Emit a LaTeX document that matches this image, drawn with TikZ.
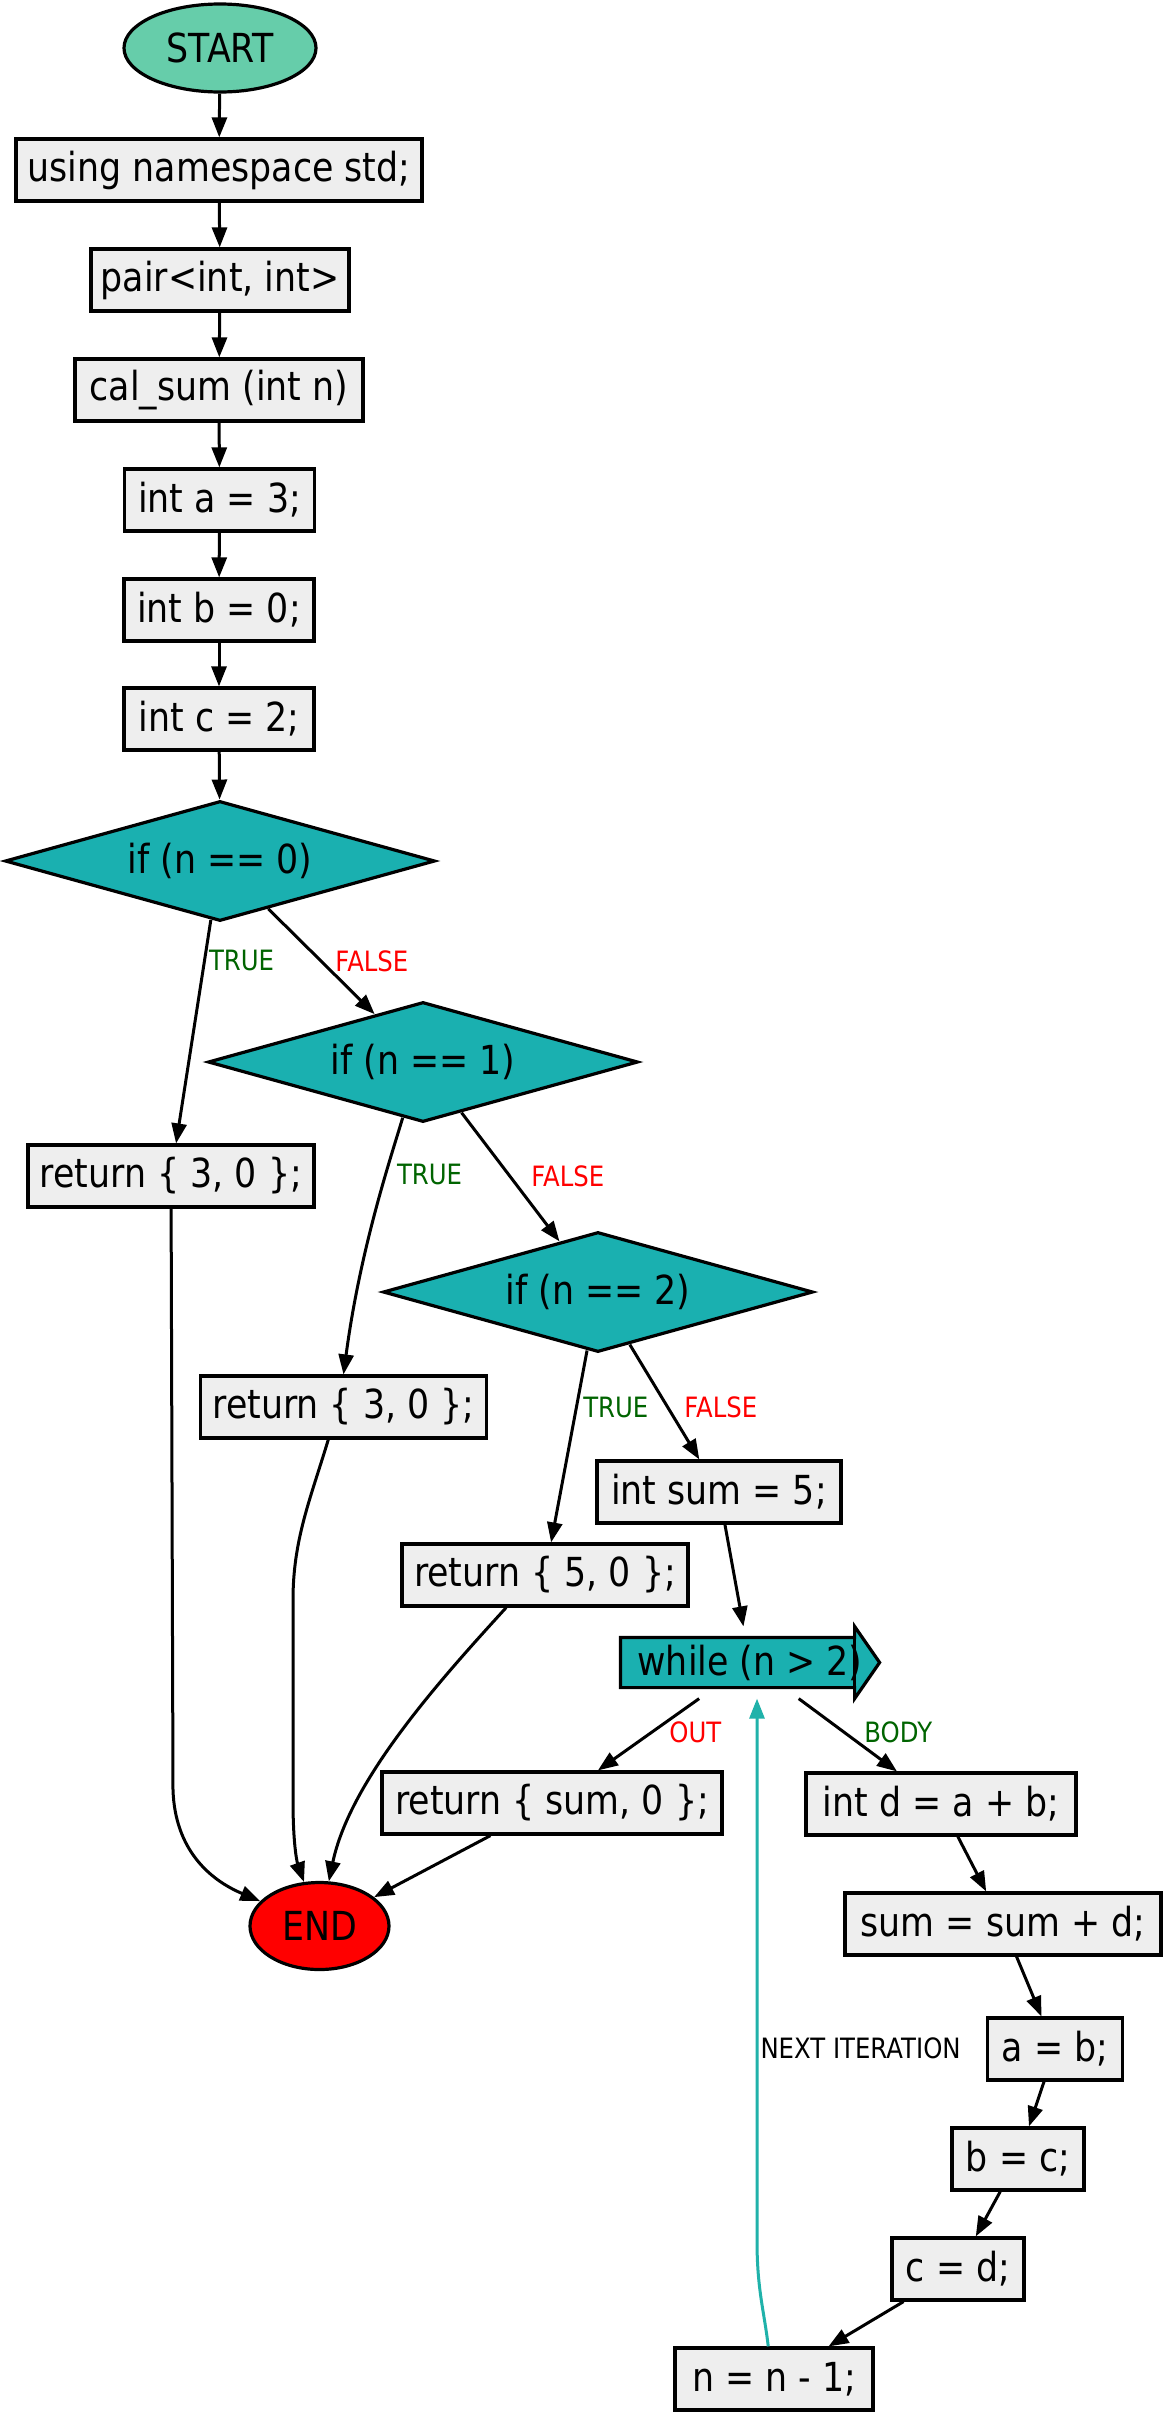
\documentclass[tikz,border=0pt]{standalone}
\usepackage{fontspec}
\setmainfont{DejaVu Sans}[FakeStretch=0.87]
\usetikzlibrary{shapes.geometric,arrows.meta,calc}
\pgfdeclarelayer{bg}
\pgfsetlayers{bg,main}
\definecolor{boxfill}{HTML}{EEEEEE}
\definecolor{startfill}{HTML}{66CDAA}
\definecolor{decfill}{HTML}{1AB0B0}
\definecolor{loopcol}{HTML}{20B2AA}
\definecolor{truecol}{HTML}{006400}
\definecolor{falsecol}{HTML}{FF0000}
\begin{document}
\begin{tikzpicture}[x=0.5pt,y=-0.5pt,
  base/.style={draw=black, line width=1.6pt, text=black,
    font=\fontsize{20}{24}\selectfont, inner sep=0pt},
  stmt/.style={base, rectangle, fill=boxfill, minimum height=31pt, inner xsep=4pt},
  term/.style={base, ellipse, minimum height=44pt},
  decision/.style={base, diamond, aspect=3.58, fill=decfill,
    minimum width=215pt, minimum height=60pt},
  flow/.style={line width=1.5pt, -{Triangle[length=10pt,width=7.5pt]}},
  lbl/.style={font=\fontsize{14}{17}\selectfont, inner sep=0pt, anchor=west},
  tlbl/.style={lbl, text=truecol},
  flbl/.style={lbl, text=falsecol},
]
\useasboundingbox (0,0) rectangle (1167,2415);
\begin{pgfonlayer}{bg}
  \fill[white] (0,0) rectangle (1167,2415);
\end{pgfonlayer}

% main column
\node[term, fill=startfill, minimum width=96pt] (start) at (220,48) {START};
\node[stmt, minimum width=203pt] (ns) at (219,170) {using namespace std;};
\node[stmt, minimum width=129pt] (pair) at (220,280) {pair<int, int>};
\node[stmt, minimum width=144pt] (cal) at (219,390) {cal\_sum (int n)};
\node[stmt, minimum width=95pt] (ia) at (219.5,500) {int a = 3;};
\node[stmt, minimum width=95pt] (ib) at (219,610) {int b = 0;};
\node[stmt, minimum width=95pt] (ic) at (219,719) {int c = 2;};

% decisions
\node[decision] (if0) at (220,861) {if (n == 0)};
\node[decision] (if1) at (423,1062) {if (n == 1)};
\node[decision] (if2) at (598,1292) {if (n == 2)};

\node[stmt, minimum width=143pt] (r1) at (171,1176) {return \{ 3, 0 \};};
\node[stmt, minimum width=143pt] (r2) at (343.5,1407) {return \{ 3, 0 \};};
\node[stmt, minimum width=122pt] (isum) at (719,1492) {int sum = 5;};
\node[stmt, minimum width=143pt] (r5) at (545,1575) {return \{ 5, 0 \};};

% loop header: arrow-shaped box
\node[base, draw=none, rectangle, minimum width=128pt, minimum height=34.5pt] (wh) at (750,1662.5) {while (n > 2)};
\begin{pgfonlayer}{bg}
  \draw[line width=1.6pt, fill=decfill, line join=miter]
    ($(wh.north west)+(0,11)$) -- ($(wh.north east)+(-25,11)$)
    -- ($(wh.north east)+(-25,0)$) -- (wh.east)
    -- ($(wh.south east)+(-25,0)$) -- ($(wh.south east)+(-25,-11)$)
    -- ($(wh.south west)+(0,-11)$) -- cycle;
  \draw[line width=1.6pt] ($(wh.north east)+(-25,0)$) -- ($(wh.south east)+(-25,0)$);
\end{pgfonlayer}

\node[stmt, minimum width=170pt] (rs) at (552,1803) {return \{ sum, 0 \};};
\node[stmt, minimum width=135pt] (id) at (941,1804) {int d = a + b;};
\node[stmt, minimum width=158pt] (ss) at (1003,1924) {sum = sum + d;};
\node[stmt, minimum width=67.5pt] (ab) at (1055,2049) {a = b;};
\node[stmt, minimum width=66pt] (bc) at (1018,2159) {b = c;};
\node[stmt, minimum width=66pt] (cd) at (958,2269) {c = d;};
\node[stmt, minimum width=99pt] (nn) at (774,2379) {n = n - 1;};

\node[term, fill=red, minimum width=69.5pt, minimum height=43.5pt] (end) at (319.5,1926) {END};

% bend points
\coordinate (b1) at (173,1790);
\coordinate (b2a) at (293,1600);
\coordinate (b2b) at (293,1800);
\coordinate (lp) at (757,2240);

% straight sequence
\draw[flow] (start) -- (ns);
\draw[flow] (ns) -- (pair);
\draw[flow] (pair) -- (cal);
\draw[flow] (cal) -- (ia);
\draw[flow] (ia) -- (ib);
\draw[flow] (ib) -- (ic);
\draw[flow] (ic) -- (if0);

% branches
\draw[flow] (if0) -- node[tlbl, pos=0.18, xshift=1.5pt] (t0) {TRUE} (r1);
\draw[flow] (if0) -- node[flbl, pos=0.495, xshift=6.5pt] (f0) {FALSE} (if1);
\draw[flow] (if1.-110) .. controls (390,1160) and (360,1250) .. node[tlbl, pos=0.33, xshift=5pt] (t1) {TRUE} (r2.north);
\draw[flow] (if1) -- node[flbl, pos=0.494, xshift=10pt] (f1) {FALSE} (if2);
\draw[flow] (if2) -- node[tlbl, pos=0.297, xshift=2.7pt] (t2) {TRUE} (r5);
\draw[flow] (if2) -- node[flbl, pos=0.542, xshift=7.7pt] (f2) {FALSE} (isum);
\draw[flow] (isum) -- (wh);

% loop
\draw[flow] (wh) -- node[flbl, pos=0.467, xshift=8pt] (out) {OUT} (rs);
\draw[flow] (wh) -- node[tlbl, pos=0.46, xshift=9.5pt] (body) {BODY} (id);
\draw[flow] (id) -- (ss);
\draw[flow] (ss) -- (ab);
\draw[flow] (ab) -- (bc);
\draw[flow] (bc) -- (cd);
\draw[flow] (cd) -- (nn);
\draw[flow, color=loopcol] (nn.100) .. controls (764,2310) and (757,2290) .. (lp)
  -- node[lbl, pos=0.354, xshift=1pt, text=black] (next) {NEXT ITERATION} (lp |- wh.south);

% returns into END
\draw[flow] (r1) -- (b1) .. controls (175,1850) and (210,1880) .. (end);
\draw[flow] (r2.-115) .. controls (310,1500) and (293,1540) .. (b2a) -- (b2b)
  .. controls (293,1850) and (298,1865) .. (end);
\draw[flow] (r5.-140) .. controls (440,1680) and (350,1780) .. (end);
\draw[flow] (rs) -- (end);
\end{tikzpicture}
\end{document}
